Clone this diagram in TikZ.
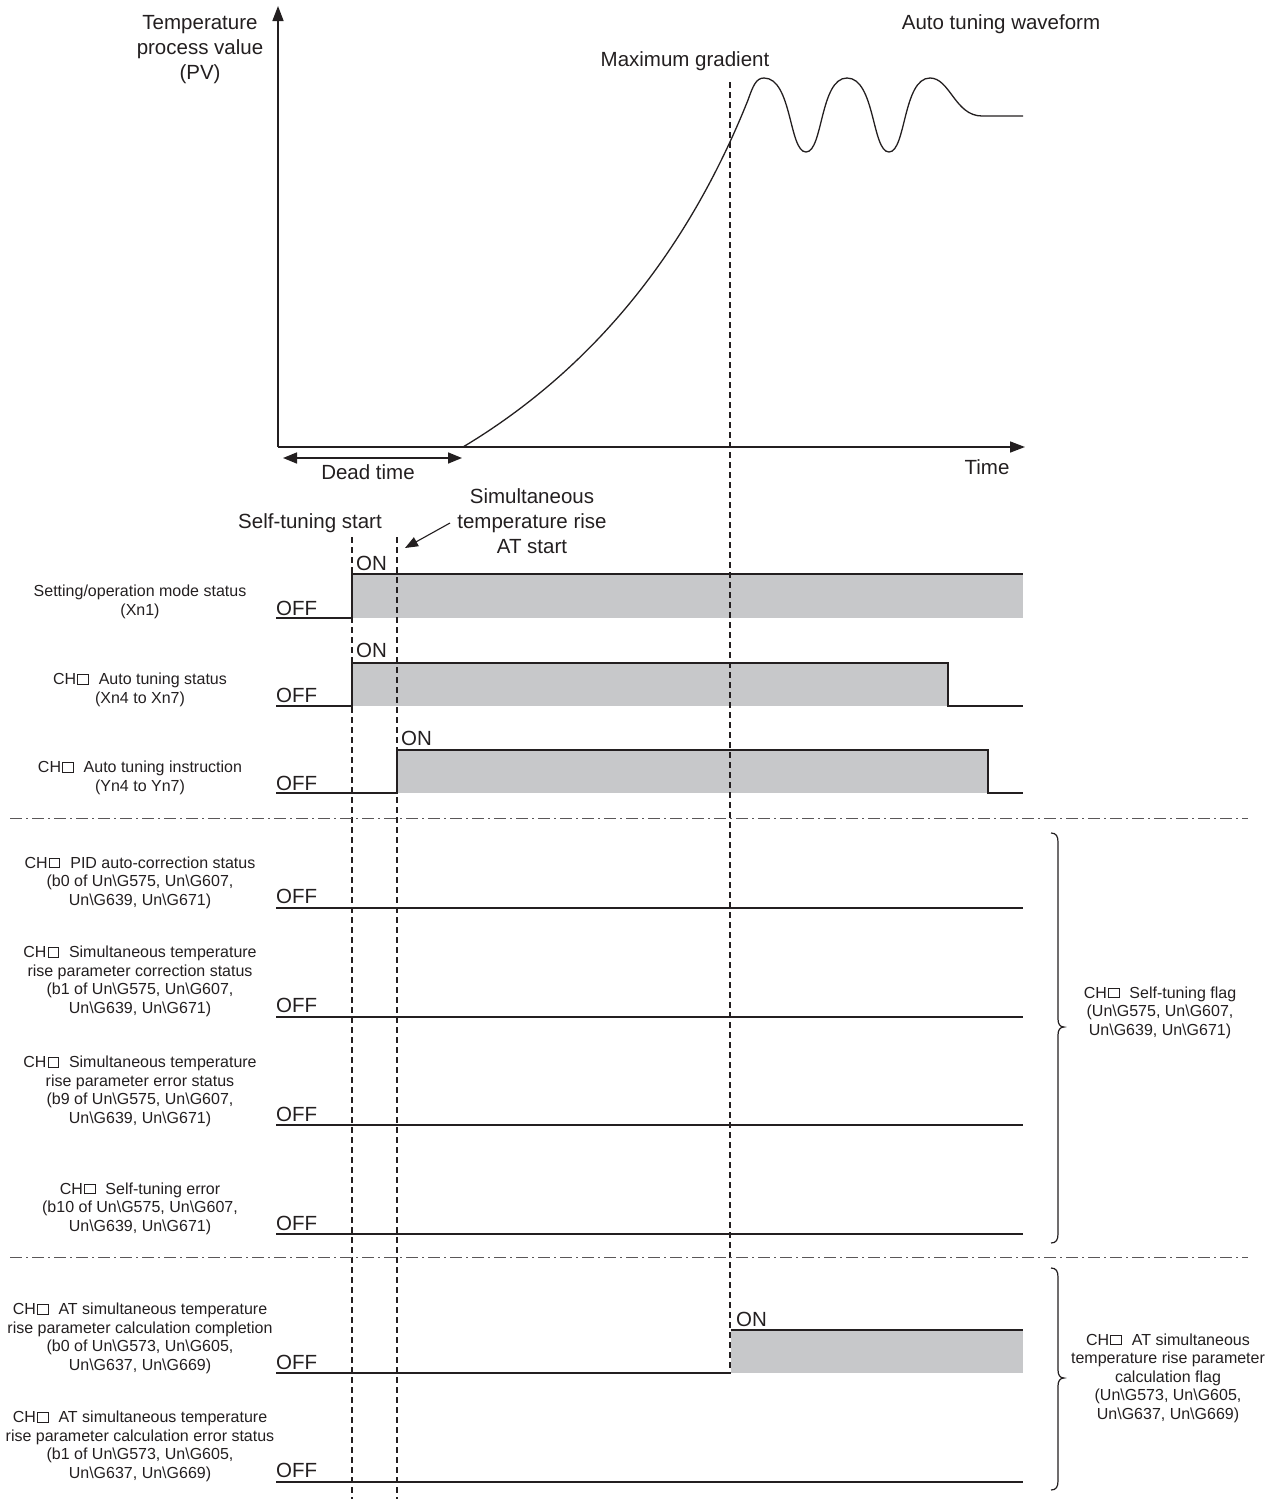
\documentclass[tikz,border=0pt]{standalone}
\usepackage{fontspec}
\setmainfont{Liberation Sans}
\usetikzlibrary{arrows.meta}
\definecolor{ink}{RGB}{35,31,32}
\definecolor{onfill}{RGB}{199,200,202}
\newcommand\chsq{\mbox{\kern1.2pt\vrule width .9pt height 10.5pt depth 0pt\vbox{\hrule height .9pt width 9.5pt\vskip 8.7pt\hrule height .9pt width 9.5pt}\vrule width .9pt height 10.5pt depth 0pt\kern1.2pt}}
\newcommand\bs{\textbackslash}
\begin{document}
\begin{tikzpicture}[x=1pt,y=-1pt,
  big/.style={font=\fontsize{20.5}{25}\selectfont, text=ink, inner sep=0pt, align=center, anchor=base},
  small/.style={font=\fontsize{16}{18.5}\selectfont, text=ink, inner sep=0pt, align=center, anchor=base},
  offlbl/.style={font=\fontsize{20.5}{24}\selectfont, text=ink, inner sep=0pt, anchor=base west},
  sig/.style={draw=ink, line width=1.4pt},
  vdash/.style={draw=ink, line width=1.1pt, dash pattern=on 6pt off 4pt},
  sepline/.style={draw=ink!75, line width=1pt, dash pattern=on 12pt off 4pt on 2pt off 4pt},
  axisline/.style={draw=ink, line width=1.6pt},
  wave/.style={draw=ink, line width=1.3pt},
  brace/.style={draw=ink, line width=1.2pt},
]
\useasboundingbox (0,0) rectangle (1281,1499);

% ---------- waveform axes ----------
\coordinate (O) at (278,447);
\coordinate (ytop) at (278,6);
\coordinate (xend) at (1025,447);
\draw[axisline,-{Triangle[length=15pt,width=11pt]}] (O) -- (ytop);
\draw[axisline,-{Triangle[length=15pt,width=11pt]}] (O) -- (xend);

% multi-line nodes: position = baseline of the last line
\node[big] (pv) at (200,79) {Temperature\\process value\\(PV)};
\node[big] (atw) at (1001,29) {Auto tuning waveform};
\node[big] (time) at (987,474) {Time};
\node[big] (maxg) at (685,66) {Maximum gradient};

% dead time
\coordinate (dtl) at (283,458);
\coordinate (dtr) at (462,458);
\draw[axisline,{Triangle[length=14pt,width=11pt]}-{Triangle[length=14pt,width=11pt]}] (dtl) -- (dtr);
\node[big] (dt) at (368,479) {Dead time};

% PV curve
\coordinate (c0) at (463,447);
\draw[wave] (c0) .. controls (613,357) and (698,225) .. (748,100)
  .. controls (753,86) and (756,78) .. (764,78)
  .. controls (792,78) and (789,152) .. (806,152)
  .. controls (823,152) and (820,78) .. (847,78)
  .. controls (875,78) and (872,152) .. (889,152)
  .. controls (906,152) and (903,78) .. (930,78)
  .. controls (950,78) and (955,116) .. (982,116)
  -- (1023,116);

% ---------- timing labels at top ----------
\node[big] (sts) at (310,528) {Self-tuning start};
\node[big] (sim) at (532,553) {Simultaneous\\temperature rise\\AT start};
\coordinate (simA) at (450,523);
\coordinate (simB) at (405,548);
\draw[draw=ink,line width=1.1pt,-{Triangle[length=13pt,width=10pt]}] (simA) -- (simB);

% ---------- fills ----------
\fill[onfill] (352,574) rectangle (1023,618);
\fill[onfill] (352,663) rectangle (948,706);
\fill[onfill] (397,750) rectangle (988,793);
\fill[onfill] (731,1330) rectangle (1023,1373);

% ---------- vertical dashed lines ----------
\coordinate (d1t) at (352,537); \coordinate (d1b) at (352,1499);
\coordinate (d2t) at (397,537); \coordinate (d2b) at (397,1499);
\coordinate (d3t) at (730,82);  \coordinate (d3b) at (730,1373);
\draw[vdash] (d1t) -- (d1b);
\draw[vdash] (d2t) -- (d2b);
\draw[vdash] (d3t) -- (d3b);

% ---------- separators ----------
\coordinate (s1l) at (10,818); \coordinate (s1r) at (1248,818);
\coordinate (s2l) at (10,1257); \coordinate (s2r) at (1248,1257);
\draw[sepline] (s1l) -- (s1r);
\draw[sepline] (s2l) -- (s2r);

% ---------- signals ----------
\draw[sig] (276,618) -- (352,618) -- (352,574) -- (1023,574);
\draw[sig] (276,706) -- (352,706) -- (352,663) -- (948,663) -- (948,706) -- (1023,706);
\draw[sig] (276,793) -- (397,793) -- (397,750) -- (988,750) -- (988,793) -- (1023,793);
\draw[sig] (276,908) -- (1023,908);
\draw[sig] (276,1017) -- (1023,1017);
\draw[sig] (276,1125) -- (1023,1125);
\draw[sig] (276,1234) -- (1023,1234);
\draw[sig] (276,1373) -- (731,1373);
\draw[sig] (731,1330) -- (1023,1330);
\draw[sig] (276,1482) -- (1023,1482);

% ON / OFF
\node[offlbl] (on1) at (356,570) {ON};
\node[offlbl] (on2) at (356,657) {ON};
\node[offlbl] (on3) at (401,745) {ON};
\node[offlbl] (on8) at (736,1326) {ON};
\node[offlbl] (off1) at (276,615) {OFF};
\node[offlbl] (off2) at (276,702) {OFF};
\node[offlbl] (off3) at (276,790) {OFF};
\node[offlbl] (off4) at (276,903) {OFF};
\node[offlbl] (off5) at (276,1012) {OFF};
\node[offlbl] (off6) at (276,1121) {OFF};
\node[offlbl] (off7) at (276,1230) {OFF};
\node[offlbl] (off8) at (276,1369) {OFF};
\node[offlbl] (off9) at (276,1477) {OFF};

% ---------- left labels ----------
\node[small] (l1) at (140,615) {Setting/operation mode status\\(Xn1)};
\node[small] (l2) at (140,703) {CH\chsq~ Auto tuning status\\(Xn4 to Xn7)};
\node[small] (l3) at (140,791) {CH\chsq~ Auto tuning instruction\\(Yn4 to Yn7)};
\node[small] (l4) at (140,905) {CH\chsq~ PID auto-correction status\\(b0 of Un\bs G575, Un\bs G607,\\Un\bs G639, Un\bs G671)};
\node[small] (l5) at (140,1013) {CH\chsq~ Simultaneous temperature\\rise parameter correction status\\(b1 of Un\bs G575, Un\bs G607,\\Un\bs G639, Un\bs G671)};
\node[small] (l6) at (140,1123) {CH\chsq~ Simultaneous temperature\\rise parameter error status\\(b9 of Un\bs G575, Un\bs G607,\\Un\bs G639, Un\bs G671)};
\node[small] (l7) at (140,1231) {CH\chsq~ Self-tuning error\\(b10 of Un\bs G575, Un\bs G607,\\Un\bs G639, Un\bs G671)};
\node[small] (l8) at (140,1370) {CH\chsq~ AT simultaneous temperature\\rise parameter calculation completion\\(b0 of Un\bs G573, Un\bs G605,\\Un\bs G637, Un\bs G669)};
\node[small] (l9) at (140,1478) {CH\chsq~ AT simultaneous temperature\\rise parameter calculation error status\\(b1 of Un\bs G573, Un\bs G605,\\Un\bs G637, Un\bs G669)};

% ---------- braces ----------
\draw[brace] (1051,833) .. controls (1056,833) and (1058,836) .. (1058,842) -- (1058,1019)
  .. controls (1058,1024) and (1060,1027) .. (1064,1027)
  .. controls (1060,1027) and (1058,1030) .. (1058,1035) -- (1058,1234)
  .. controls (1058,1240) and (1056,1243) .. (1051,1243);
\draw[brace] (1051,1268) .. controls (1056,1268) and (1058,1271) .. (1058,1277) -- (1058,1370)
  .. controls (1058,1375) and (1060,1378) .. (1064,1378)
  .. controls (1060,1378) and (1058,1381) .. (1058,1386) -- (1058,1481)
  .. controls (1058,1487) and (1056,1490) .. (1051,1490);

\node[small] (r1) at (1160,1035) {CH\chsq~ Self-tuning flag\\(Un\bs G575, Un\bs G607,\\Un\bs G639, Un\bs G671)};
\node[small] (r2) at (1168,1419) {CH\chsq~ AT simultaneous\\temperature rise parameter\\calculation flag\\(Un\bs G573, Un\bs G605,\\Un\bs G637, Un\bs G669)};
\end{tikzpicture}
\end{document}
